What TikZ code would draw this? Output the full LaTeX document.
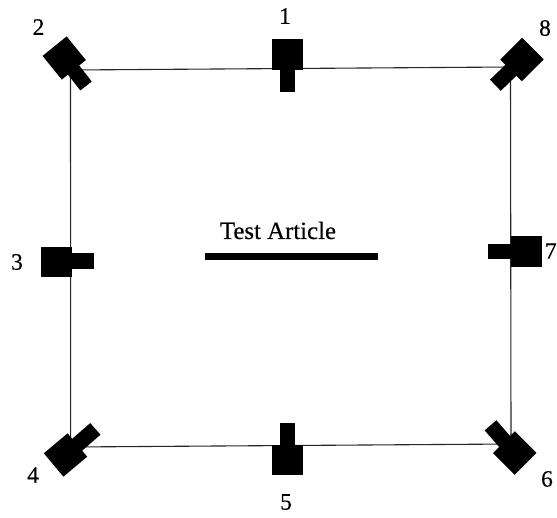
\documentclass[tikz,border=0pt]{standalone}
\usepackage{fontspec}
\setmainfont{Liberation Serif}
\newfontfamily\labelfont[FakeBold=0.35]{Liberation Serif}
\tikzset{
  x=1pt,y=-1pt,
  part/.style={fill=black,draw=none,inner sep=0pt,outer sep=0pt,rectangle},
  body/.style={part,minimum width=31pt,minimum height=30.5pt},
  lens/.style={part,minimum width=22pt,minimum height=15.5pt},
  frameline/.style={draw=black!85,line width=1.1pt},
  tag/.style={inner sep=0pt,font=\labelfont\fontsize{23.5}{26}\selectfont,text=black},
  articlebar/.style={part,minimum width=173pt,minimum height=6.5pt},
}
\begin{document}
\begin{tikzpicture}
\useasboundingbox (0,0) rectangle (557,517);
\fill[white] (0,0) rectangle (557,517);
% frame corners
\coordinate (c2) at (70.5,70);
\coordinate (c8) at (510.5,67);
\coordinate (c6) at (511,444);
\coordinate (c4) at (70.7,447);
\draw[frameline] (c2) -- (c8) -- (c6) -- (c4) -- cycle;
% sensors: body and lens
\node[body] (b1) at (287.3,54.7) {};
\node[lens,rotate=90] (l1) at (287.3,80.5) {};
\node[body] (b5) at (287.5,460) {};
\node[lens,rotate=90] (l5) at (287.7,434) {};
\node[body] (b3) at (56.5,262) {};
\node[lens] (l3) at (83,261.2) {};
\node[body] (b7) at (526.3,251.3) {};
\node[lens,minimum width=24pt] (l7) at (499.5,251.3) {};
\node[body,rotate=39] (b2) at (64.2,58) {};
\node[lens,rotate=-52,minimum width=35.5pt,minimum height=14.5pt] (l2) at (75.1,72) {};
\node[body,rotate=45] (b8) at (522,59.5) {};
\node[lens,rotate=44,minimum width=37pt] (l8) at (508.7,72.4) {};
\node[body,rotate=40] (b4) at (65.5,455) {};
\node[lens,rotate=41,minimum width=39.7pt] (l4) at (80.4,441.9) {};
\node[body,rotate=45] (b6) at (514.7,453) {};
\node[lens,rotate=-49,minimum width=36.8pt] (l6) at (502.6,439.2) {};
% test article
\node[articlebar] (bar) at (291.5,256.5) {};
\node[tag,font=\labelfont\fontsize{24.8}{28}\selectfont] (title) at (278,230.5) {Test Article};
% labels
\node[tag] (n1) at (285,16) {1};
\node[tag] (n2) at (38.5,27) {2};
\node[tag] (n3) at (17,262) {3};
\node[tag] (n4) at (33,475) {4};
\node[tag] (n5) at (286,502) {5};
\node[tag] (n6) at (547,479) {6};
\node[tag] (n7) at (550.8,251) {7};
\node[tag] (n8) at (545,28) {8};
\end{tikzpicture}
\end{document}
